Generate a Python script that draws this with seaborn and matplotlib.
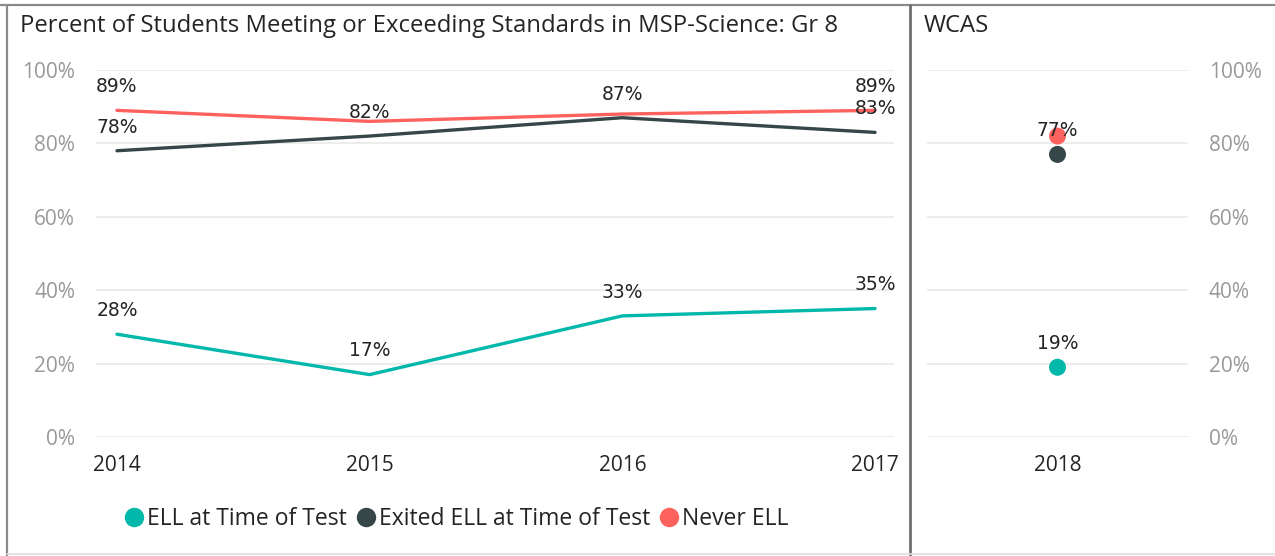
import matplotlib.pyplot as plt
import pandas as pd
import seaborn as sns
from matplotlib.lines import Line2D

# data
groups = ['ELL at Time of Test', 'Exited ELL at Time of Test', 'Never ELL']
colors = ['#01B8AA', '#374649', '#FD625E']

years = [2014, 2015, 2016, 2017]
ell = [28, 17, 33, 35]
exited = [78, 82, 87, 83]
never = [89, 86, 88, 89]
# which data labels are shown (overlapping ones are hidden in the original)
show_ell = [True, True, True, True]
show_exited = [True, True, True, True]
show_never = [True, False, False, True]

wcas_year = [2018]
wcas_ell = [19]
wcas_exited = [77]
wcas_never = [82]
wcas_show = [True, True, False]

yticks = [0, 20, 40, 60, 80, 100]

W, H = 1275, 556

sns.set_theme(style='white')
plt.rcParams['font.family'] = ['Open Sans', 'DejaVu Sans']

df = pd.DataFrame({
    'year': years * 3,
    'pct': ell + exited + never,
    'group': [g for g in groups for _ in years],
    'show': show_ell + show_exited + show_never,
})
df2 = pd.DataFrame({
    'year': wcas_year * 3,
    'pct': wcas_ell + wcas_exited + wcas_never,
    'group': groups,
    'show': wcas_show,
})
pal = dict(zip(groups, colors))

fig = plt.figure(figsize=(W / 100, H / 100), dpi=100)


def px_axes(x0, x1, y_top, y_bot):
    return fig.add_axes([x0 / W, 1 - y_bot / H, (x1 - x0) / W, (y_bot - y_top) / H])


ax1 = px_axes(96, 894, 70, 437)
ax2 = px_axes(927, 1188, 70, 437)

sns.lineplot(data=df, x='year', y='pct', hue='group', palette=pal,
             linewidth=2.4, legend=False, ax=ax1, zorder=3)
sns.scatterplot(data=df2, x='year', y='pct', hue='group', palette=pal,
                s=150, linewidth=0, legend=False, ax=ax2, zorder=3)

for ax, d in [(ax1, df), (ax2, df2)]:
    for _, r in d[d['show']].iterrows():
        ax.annotate(f"{r['pct']:.0f}%", (r['year'], r['pct']), xytext=(0, 17),
                    textcoords='offset points', ha='center', va='center',
                    fontsize=13.5, color='#252423', family='DejaVu Sans',
                    zorder=5, annotation_clip=False)

ax1.set_xlim(2013.917, 2017.075)
ax2.set_xlim(2017.5, 2018.5)
for ax in (ax1, ax2):
    ax.set_ylim(0, 100)
    ax.set_yticks(yticks)
    ax.set_yticklabels([f'{v}%' for v in yticks])
    ax.grid(axis='y', color='#e9e9e9', linewidth=1.2)
    ax.set_axisbelow(True)
    sns.despine(ax=ax, left=True, bottom=True)
    ax.set_xlabel('')
    ax.set_ylabel('')
    ax.tick_params(axis='y', labelsize=15, colors='#999999', length=0)
    ax.tick_params(axis='x', labelsize=15, colors='#252423', length=0, pad=13)

ax1.set_xticks(years)
ax1.set_xticklabels([str(y) for y in years])
ax1.tick_params(axis='y', pad=15)
ax2.set_xticks(wcas_year)
ax2.set_xticklabels([str(y) for y in wcas_year])
ax2.yaxis.tick_right()
ax2.tick_params(axis='y', pad=15)

fig.text(20 / W, 1 - 26 / H, 'Percent of Students Meeting or Exceeding Standards in MSP-Science: Gr 8',
         fontsize=17.2, color='#252423', va='center', ha='left')
fig.text(924 / W, 1 - 26 / H, 'WCAS', fontsize=17.2, color='#252423', va='center', ha='left')

handles = [Line2D([], [], marker='o', linestyle='', markersize=14,
                  markerfacecolor=c, markeredgewidth=0) for c in colors]
fig.legend(handles, groups, loc='center', bbox_to_anchor=(455 / W, 1 - 519 / H),
           ncol=3, frameon=False, fontsize=16.5, handletextpad=0.0,
           columnspacing=0.3, handlelength=1.1, labelcolor='#252423')

# panel frames
fig.add_artist(Line2D([0, 1], [1 - 5 / H] * 2, color='#8a8a8a', linewidth=1.6))
fig.add_artist(Line2D([7 / W] * 2, [0, 1 - 5 / H], color='#8a8a8a', linewidth=1.6))
fig.add_artist(Line2D([910 / W] * 2, [0, 1 - 5 / H], color='#707070', linewidth=2))
fig.add_artist(Line2D([7 / W, 1], [1 - 554 / H] * 2, color='#dddddd', linewidth=1.2))

fig.savefig('out.png', dpi=100)
